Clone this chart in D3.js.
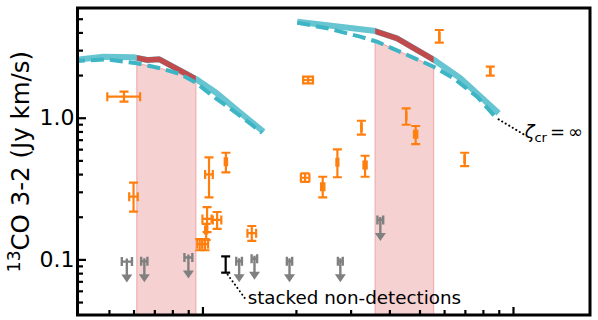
<!DOCTYPE html>
<html><head><meta charset="utf-8">
<script src="https://cdn.jsdelivr.net/npm/d3@7/dist/d3.min.js"></script>
<style>body{margin:0;background:#fff}svg{display:block}text{font-family:"DejaVu Sans",sans-serif}</style>
</head><body>
<script>
// ---- data ----
const bands = [[6.15, 9.52], [36.0, 55.5]];

const solidAX = [3.8, 4.06, 4.80, 5.99, 6.65, 7.27, 9.64, 11.13, 12.91, 15.73];
const solidAY = [2.56, 2.585, 2.697, 2.671, 2.556, 2.585, 1.846, 1.487, 1.133, 0.796];
const dashAX = [3.8, 4.04, 4.92, 6.15, 7.31, 8.48, 9.59, 10.85, 12.91, 15.54];
const dashAY = [2.50, 2.526, 2.585, 2.422, 2.233, 2.035, 1.75, 1.407, 1.074, 0.784];

const solidBX = [20.2, 35.6, 42.3, 56.2, 67.7, 89.9];
const solidBY = [4.76, 4.115, 3.637, 2.526, 1.898, 1.074];
const dashBX = [20.2, 25.2, 32.2, 36.5, 44.4, 55.5, 64.4, 76.6, 87.7];
const dashBY = [4.69, 4.28, 3.733, 3.44, 2.85, 2.292, 1.898, 1.407, 1.016];

// detections
const detX   = [5.59, 6.0, 10.5, 11.9, 10.35, 11.15, 10.28, 9.8, 10.2, 14.42, 21.9, 21.4, 24.4, 27.2, 32.5, 33.4, 45.3, 48.6, 69.9, 84.5, 57.9];
const detXlo = [4.94, 5.81, 10.2, 11.8, 10.0, 10.8, 10.2, 9.62, 9.98, 13.96, 21.1, 20.75, 24.1, 27.0, 32.5, 33.0, 45.3, 48.0, 69.9, 84.5, 57.9];
const detXhi = [6.30, 6.19, 10.8, 12.0, 10.7, 11.5, 10.36, 9.99, 10.43, 14.89, 22.7, 22.1, 24.7, 27.4, 32.5, 33.8, 45.3, 49.2, 69.9, 84.5, 57.9];
const detY   = [1.407, 0.277, 0.398, 0.489, 0.193, 0.19, 0.161, 0.128, 0.128, 0.153, 1.846, 0.377, 0.326, 0.484, 0.855, 0.463, 1.028, 0.763, 0.511, 2.137, 3.733];
const detYlo = [1.297, 0.217, 0.274, 0.412, 0.156, 0.164, 0.137, 0.116, 0.116, 0.135, 1.75, 0.353, 0.274, 0.38, 0.759, 0.383, 0.892, 0.652, 0.456, 1.98, 3.386];
const detYhi = [1.526, 0.348, 0.525, 0.566, 0.234, 0.216, 0.178, 0.139, 0.139, 0.172, 1.948, 0.405, 0.383, 0.598, 0.952, 0.539, 1.165, 0.874, 0.566, 2.292, 4.16];

// upper limits
const limX   = [5.71, 6.5, 9.01, 13.13, 14.71, 19.07, 27.8, 37.4];
const limXlo = [5.5, 6.35, 8.75, 12.85, 14.4, 18.7, 27.3, 36.6];
const limXhi = [5.93, 6.65, 9.28, 13.4, 15.0, 19.45, 28.3, 38.2];
const limY   = [0.0965, 0.097, 0.103, 0.097, 0.101, 0.097, 0.097, 0.19];

// stacked non-detections
const stackX = [11.88], stackY = [0.091], stackYlo = [0.0806], stackYhi = [0.105];

const yMajor = [0.1, 1];
const yMinor = [0.05, 0.06, 0.07, 0.08, 0.09, 0.2, 0.3, 0.4, 0.5, 0.6, 0.7, 0.8, 0.9, 2, 3, 4, 5];
const xMajor = [10, 100];
const xMinor = [5, 6, 7, 8, 9, 20, 30, 40, 50, 60, 70, 80, 90];

// ---- layout ----
const W = 598, H = 320;
const L = 77.5, R = 590, T = 8, B = 315;
const x = d3.scaleLog().domain([3.96, 177]).range([L, R]);
const y = d3.scaleLog().domain([0.0405, 5.95]).range([B, T]);

const svg = d3.select("body").append("svg").attr("width", W).attr("height", H);
const defs = svg.append("defs");
defs.append("clipPath").attr("id", "plotclip").append("rect")
  .attr("x", L).attr("y", T).attr("width", R - L).attr("height", B - T);
bands.forEach((b, i) => {
  defs.append("clipPath").attr("id", "band" + i).append("rect")
    .attr("x", x(b[0])).attr("y", T).attr("width", x(b[1]) - x(b[0])).attr("height", B - T);
});

const g = svg.append("g").attr("clip-path", "url(#plotclip)");

function interp(xs, ys, xv) {
  for (let i = 0; i < xs.length - 1; i++) {
    if (xv >= xs[i] && xv <= xs[i + 1]) {
      const t = (Math.log(xv) - Math.log(xs[i])) / (Math.log(xs[i + 1]) - Math.log(xs[i]));
      return Math.exp(Math.log(ys[i]) + t * (Math.log(ys[i + 1]) - Math.log(ys[i])));
    }
  }
  return ys[ys.length - 1];
}

// bands (filled under the dashed curve)
const dashSets = [[dashAX, dashAY], [dashBX, dashBY]];
bands.forEach((b, i) => {
  const [xs, ys] = dashSets[i];
  const pts = [[x(b[0]), B], [x(b[0]), y(interp(xs, ys, b[0]))]];
  xs.forEach((xv, k) => { if (xv > b[0] && xv < b[1]) pts.push([x(xv), y(ys[k])]); });
  pts.push([x(b[1]), y(interp(xs, ys, b[1]))]);
  pts.push([x(b[1]), B]);
  g.append("path").attr("d", "M" + pts.map(p => p.join(",")).join("L") + "Z")
    .attr("fill", "#f5d1d1").attr("stroke", "#efb3b3").attr("stroke-width", 1.3);
});

const line = d3.line().x(d => x(d[0])).y(d => y(d[1]));
const zip = (a, b) => a.map((v, i) => [v, b[i]]);

[[solidAX, solidAY, 0], [solidBX, solidBY, 1]].forEach(([xs, ys, i]) => {
  g.append("path").attr("d", line(zip(xs, ys))).attr("fill", "none")
    .attr("stroke", "#66c5d0").attr("stroke-width", 6).attr("stroke-linejoin", "round");
  g.append("g").attr("clip-path", `url(#band${i})`).append("path").attr("d", line(zip(xs, ys)))
    .attr("fill", "none").attr("stroke", "#c14a4d").attr("stroke-width", 5.5).attr("stroke-linejoin", "round");
});
[[dashAX, dashAY], [dashBX, dashBY]].forEach(([xs, ys]) => {
  g.append("path").attr("d", line(zip(xs, ys))).attr("fill", "none")
    .attr("stroke", "#3db5c5").attr("stroke-width", 4).attr("stroke-dasharray", "13,6");
});

// detections
const orange = "#ff7f0e", cap = 4.5;
detX.forEach((xv, i) => {
  const gp = g.append("g").attr("stroke", orange).attr("stroke-width", 2.2);
  const cx = x(xv), cy = y(detY[i]);
  const y0 = y(detYlo[i]), y1 = y(detYhi[i]), x0 = x(detXlo[i]), x1 = x(detXhi[i]);
  gp.append("line").attr("x1", cx).attr("x2", cx).attr("y1", y0).attr("y2", y1);
  gp.append("line").attr("x1", cx - cap).attr("x2", cx + cap).attr("y1", y0).attr("y2", y0);
  gp.append("line").attr("x1", cx - cap).attr("x2", cx + cap).attr("y1", y1).attr("y2", y1);
  gp.append("line").attr("x1", x0).attr("x2", x1).attr("y1", cy).attr("y2", cy);
  gp.append("line").attr("x1", x0).attr("x2", x0).attr("y1", cy - cap).attr("y2", cy + cap);
  gp.append("line").attr("x1", x1).attr("x2", x1).attr("y1", cy - cap).attr("y2", cy + cap);
});

// upper limits
const grey = "#808080";
limX.forEach((xv, i) => {
  const gp = g.append("g").attr("stroke", grey).attr("stroke-width", 2.4);
  const cx = x(xv), cy = y(limY[i]);
  const x0 = x(limXlo[i]), x1 = x(limXhi[i]);
  gp.append("line").attr("x1", x0).attr("x2", x1).attr("y1", cy).attr("y2", cy);
  gp.append("line").attr("x1", x0).attr("x2", x0).attr("y1", cy - cap).attr("y2", cy + cap);
  gp.append("line").attr("x1", x1).attr("x2", x1).attr("y1", cy - cap).attr("y2", cy + cap);
  gp.append("line").attr("x1", cx).attr("x2", cx).attr("y1", cy - 3).attr("y2", cy + 14);
  gp.append("path").attr("d", `M${cx - 5.5},${cy + 13}L${cx + 5.5},${cy + 13}L${cx},${cy + 21}Z`)
    .attr("fill", grey).attr("stroke", "none");
});

// stacked non-detections
stackX.forEach((xv, i) => {
  const cx = x(xv), y0 = y(stackYlo[i]), y1 = y(stackYhi[i]);
  const gp = svg.append("g").attr("stroke", "#000").attr("stroke-width", 2.2);
  gp.append("line").attr("x1", cx).attr("x2", cx).attr("y1", y0).attr("y2", y1);
  gp.append("line").attr("x1", cx - cap).attr("x2", cx + cap).attr("y1", y0).attr("y2", y0);
  gp.append("line").attr("x1", cx - cap).attr("x2", cx + cap).attr("y1", y1).attr("y2", y1);
  svg.append("line").attr("x1", cx + 2).attr("y1", y0 + 2).attr("x2", cx + 21).attr("y2", y0 + 28)
    .attr("stroke", "#000").attr("stroke-width", 2).attr("stroke-dasharray", "0.1,4").attr("stroke-linecap", "round");
  svg.append("text").attr("x", cx + 22).attr("y", y0 + 31).attr("font-size", 18.3).attr("fill", "#000")
    .text("stacked non-detections");
});

// zeta annotation
{
  const ex = x(solidBX[solidBX.length - 1]), ey = y(solidBY[solidBY.length - 1]);
  svg.append("line").attr("x1", ex).attr("y1", ey + 6).attr("x2", ex + 25).attr("y2", ey + 21)
    .attr("stroke", "#000").attr("stroke-width", 2).attr("stroke-dasharray", "0.1,4").attr("stroke-linecap", "round");
  const t = svg.append("text").attr("x", ex + 26).attr("y", ey + 25).attr("font-size", 18).attr("fill", "#000");
  t.append("tspan").attr("font-style", "italic").text("ζ");
  t.append("tspan").attr("font-size", 13).attr("dy", 4).text("cr");
  t.append("tspan").attr("dy", -4).attr("dx", 3).text("=");
  t.append("tspan").attr("dx", 3).text("∞");
}

// axes
const ax = svg.append("g");
ax.append("g").attr("transform", `translate(${L},0)`)
  .call(d3.axisLeft(y).tickValues(yMinor).tickSize(-5.5).tickFormat(""));
ax.append("g").attr("transform", `translate(${L},0)`)
  .call(d3.axisLeft(y).tickValues(yMajor).tickSize(-8.5).tickPadding(3).tickFormat(d3.format(".1f")));
ax.append("g").attr("transform", `translate(0,${B})`)
  .call(d3.axisBottom(x).tickValues(xMinor).tickSize(-5).tickFormat(""));
ax.append("g").attr("transform", `translate(0,${B})`)
  .call(d3.axisBottom(x).tickValues(xMajor).tickSize(-8).tickFormat(""));
ax.selectAll(".domain").remove();
ax.selectAll(".tick line").attr("stroke", "#000").attr("stroke-width", 2.2);
ax.selectAll(".tick text").attr("font-size", 22).attr("fill", "#000").attr("font-family", "DejaVu Sans");

svg.append("rect").attr("x", L).attr("y", T).attr("width", R - L).attr("height", B - T)
  .attr("fill", "none").attr("stroke", "#000").attr("stroke-width", 3);

// y label
const yl = svg.append("text").attr("transform", `translate(29,${(T + B) / 2}) rotate(-90)`)
  .attr("text-anchor", "middle").attr("font-size", 24.5).attr("fill", "#000");
yl.append("tspan").attr("font-size", 17).attr("dy", -9).text("13");
yl.append("tspan").attr("dy", 9).text("CO 3-2 (Jy km/s)");
</script>
</body></html>
